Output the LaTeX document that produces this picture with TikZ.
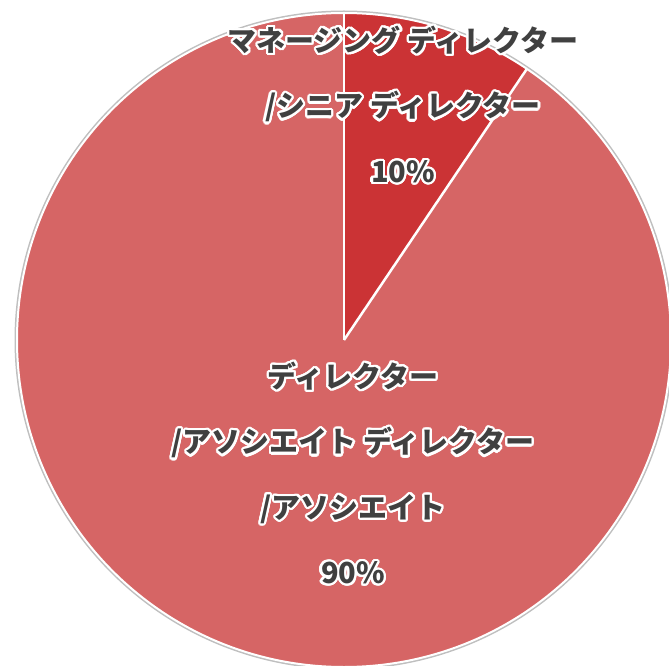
\documentclass[tikz,border=0pt]{standalone}
\usepackage{fontspec}
\setmainfont{Noto Sans CJK JP}
\usepackage{contour}
\usetikzlibrary{positioning}
\definecolor{bigslice}{HTML}{D66565}
\definecolor{smallslice}{HTML}{CB3335}
\definecolor{labeltext}{HTML}{404040}
\contourlength{2.2pt}
\contournumber{24}
\newcommand{\glow}[1]{\contour{white}{#1}}

\begin{document}
\begin{tikzpicture}[x=1pt,y=1pt,node distance=36pt,
    lbl/.style={inner sep=0pt,text height=23pt,text depth=6pt,
        font=\fontsize{29}{29}\selectfont\bfseries,text=labeltext},
    sep/.style={draw=white,line width=2.5pt}]

            \useasboundingbox (0,0) rectangle (669,665);

            \coordinate (c) at (344,325);
            \coordinate (p0) at ([shift={(90:327)}]c);
            \coordinate (p1) at ([shift={(56:327)}]c);

            % pie
            \fill[black!25] (c) circle[radius=329.5];
            \fill[bigslice] (c) circle[radius=327];
            \fill[smallslice] (c) -- (p1) arc[start angle=56,end angle=90,radius=327] -- cycle;
            \draw[white,line width=2pt] (c) circle[radius=327];
            \draw[sep] (c) -- (p0);
            \draw[sep] (c) -- (p1);

            % labels
            \node[lbl] (md1) at (403,622) {\glow{マネージング ディレクター}};
            \node[lbl] (md2) [below=of md1] {\glow{/シニア ディレクター}};
            \node[lbl] (md3) [below=of md2] {\glow{10\%}};

            \node[lbl] (dr1) at (353,286) {\glow{ディレクター}};
            \node[lbl] (dr2) [below=of dr1] {\glow{/アソシエイト ディレクター}};
            \node[lbl] (dr3) [below=of dr2] {\glow{/アソシエイト}};
            \node[lbl] (dr4) [below=of dr3] {\glow{90\%}};

        \end{tikzpicture}
\end{document}
